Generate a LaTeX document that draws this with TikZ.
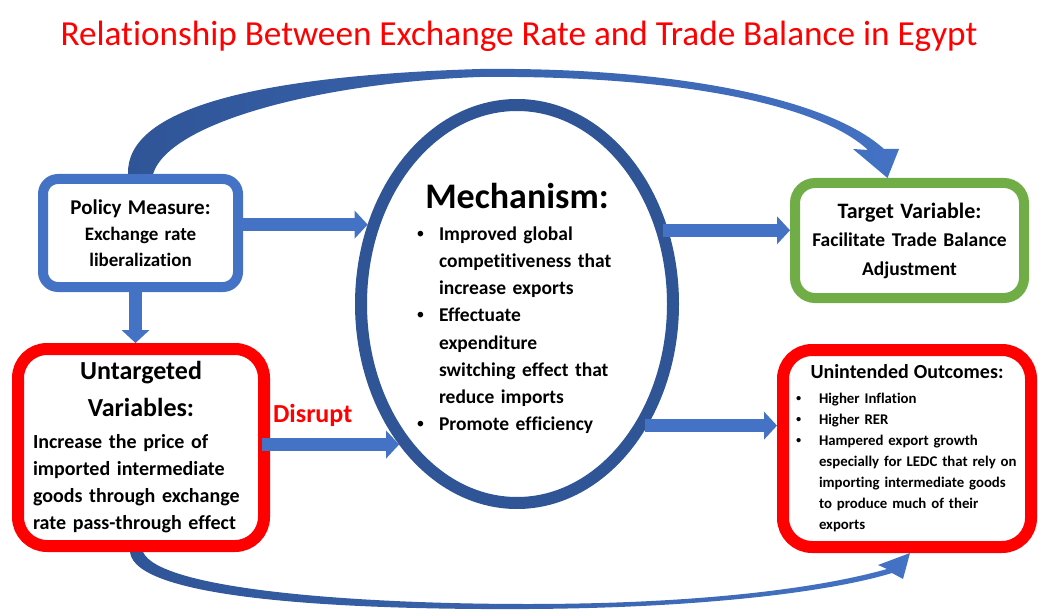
\documentclass[tikz,border=0pt]{standalone}
\usepackage{fontspec}
\setmainfont{Carlito}[Ligatures=NoCommon]
\newfontfamily\bulletfont{Liberation Sans}
\usetikzlibrary{shapes}
\usetikzlibrary{arrows.meta}
\usetikzlibrary{positioning}

\setlength{\parindent}{0pt}
\definecolor{boxblue}{HTML}{4472C4}
\definecolor{mechblue}{HTML}{2F5597}
\definecolor{boxgreen}{HTML}{70AD47}
\definecolor{boxred}{HTML}{FF0000}

% bullet line with hanging indent (lines split by \newline)
\newcommand{\bpoint}[2][22pt]{\hangindent=#1\hangafter=1\noindent\makebox[#1][l]{\bulletfont •}#2\par}

\tikzset{
  varbox/.style={draw, fill=white, rounded corners=#1, inner sep=0pt},
  bigarrow/.style={draw=boxblue, line width=13pt, -{Triangle[width=28pt,length=13pt,line width=0pt]}},
  disrupt/.style={text=boxred, font=\bfseries\fontsize{26}{30}\selectfont, inner sep=0pt},
}

\begin{document}
\begin{tikzpicture}[x=1pt,y=-1pt]
  \useasboundingbox (0,0) rectangle (1038,612);

  \node[text=boxred, font=\fontsize{35.2}{40}\selectfont] (title) at (519,36)
    {Relationship Between Exchange Rate and Trade Balance in Egypt};

  % the five blocks
  \node[varbox=15pt, draw=boxblue, line width=10pt, minimum width=195pt, minimum height=108pt,
        text width=190pt, align=center, font=\bfseries\fontsize{19}{26}\selectfont] (policy) at (140.5,233)
    {{\fontsize{21}{26}\selectfont Policy Measure:}\\ Exchange rate\\ liberalization};
  \node[varbox=29pt, draw=boxred, line width=12pt, minimum width=246pt, minimum height=197pt,
        text width=216pt, font=\bfseries\fontsize{20}{27}\selectfont] (untarg) at (141,447.5)
    {{\centering\fontsize{26}{37}\selectfont Untargeted\\ Variables:\par}\vspace{5pt}
     {\raggedright Increase the price of\\ imported intermediate\\ goods through exchange\\ rate pass-through effect\par}};
  \node[ellipse, draw=mechblue, line width=12pt, fill=white, minimum width=312pt, minimum height=398pt,
        inner sep=0pt, text width=200pt, font=\bfseries\fontsize{19.5}{27.2}\selectfont] (mech) at (517,304)
    {{\centering\fontsize{36}{40}\selectfont\rule{0pt}{34pt}Mechanism:\par}\vspace{5pt}
     \bpoint{Improved global\newline competitiveness that\newline increase exports}
     \bpoint{Effectuate\newline expenditure\newline switching effect that\newline reduce imports}
     \bpoint{Promote efficiency}};
  \node[varbox=20pt, draw=boxgreen, line width=10pt, minimum width=229pt, minimum height=115pt,
        text width=225pt, align=center, font=\bfseries\fontsize{19.5}{28.5}\selectfont] (target) at (909.5,240.5)
    {{\fontsize{22}{28.5}\selectfont Target Variable:}\\ Facilitate Trade Balance\\ Adjustment};
  \node[varbox=29pt, draw=boxred, line width=12pt, minimum width=248pt, minimum height=197pt,
        text width=222pt, font=\bfseries\fontsize{14.8}{21}\selectfont] (unint) at (907,448.5)
    {{\centering\fontsize{20}{21}\selectfont Unintended Outcomes:\par}\vspace{4pt}
     \bpoint[23pt]{Higher Inflation}
     \bpoint[23pt]{Higher RER}
     \bpoint[23pt]{Hampered export growth\newline especially for LEDC that rely on\newline importing intermediate goods\newline to produce much of their\newline exports}};

  % straight connectors
  \draw[bigarrow] ([xshift=-8pt]policy.east |- mech.152) -- (mech.152);
  \draw[bigarrow] ([xshift=-5pt]policy.south) -- ([xshift=-5pt]policy.south |- untarg.north);
  \draw[bigarrow] ([xshift=-8pt]untarg.east |- mech.-130) -- node[disrupt, pos=0.37, yshift=29pt] {Disrupt} (mech.-130);
  \draw[bigarrow] ([xshift=-5pt]mech.26) -- (target.west |- mech.26);
  \draw[bigarrow] ([xshift=-2pt]mech.-43) -- (unint.west |- mech.-43);

  % curved connectors
  \shade[left color=mechblue, right color=boxblue]
    ([xshift=-12.5pt]policy.north) .. controls (126,110) and (250,76) .. (480,69)
    .. controls (680,67) and (830,100) .. (884,149) -- (899,149) -- ([xshift=-22pt]target.north)
    -- (853,149) -- (868,150) .. controls (820,105) and (680,75) .. (480,77)
    .. controls (330,82) and (170,120) .. ([xshift=12.5pt]policy.north) -- cycle;
  \shade[left color=mechblue, middle color=boxblue!45, right color=boxblue]
    ([xshift=-11pt]untarg.south) .. controls (135,600) and (350,610) .. (528,609)
    .. controls (700,608) and (830,592) .. (892,573) -- (903,579) -- ([xshift=3pt]unint.south)
    -- (878,565) -- (887,569) .. controls (820,588) and (700,604) .. (528,604)
    .. controls (360,604) and (160,590) .. ([xshift=2pt]untarg.south) -- cycle;
\end{tikzpicture}
\end{document}
